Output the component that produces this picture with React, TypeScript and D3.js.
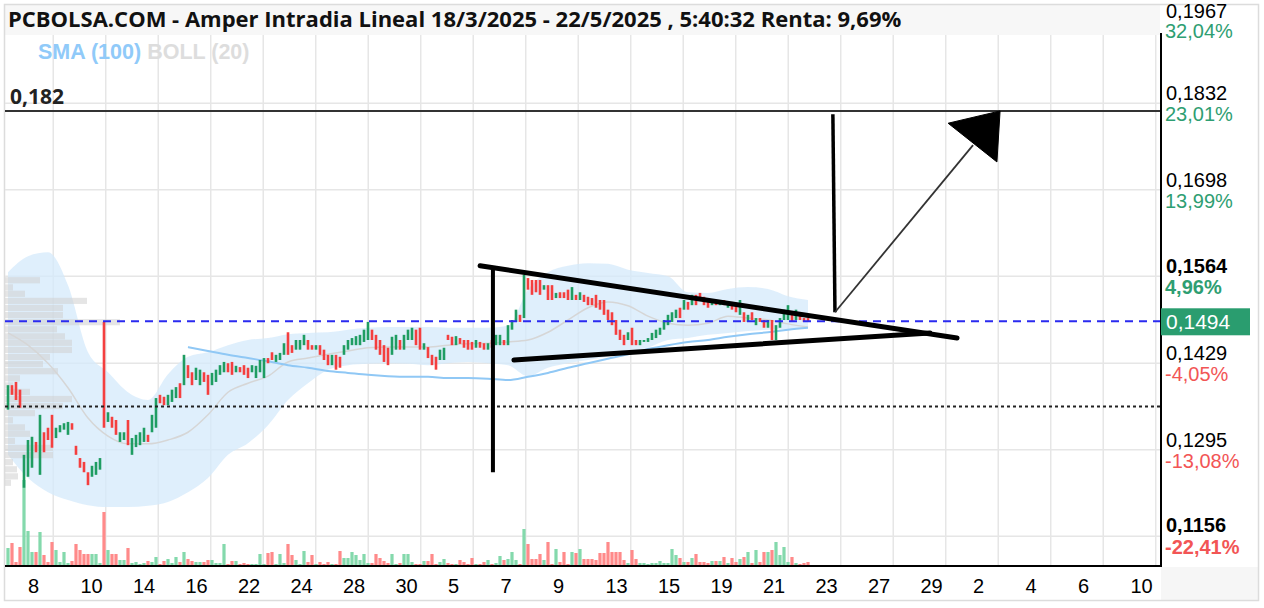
import React from "react";
import * as d3 from "d3";

const W = 1264;
const H = 608;

const TITLE = "PCBOLSA.COM - Amper Intradia Lineal 18/3/2025 - 22/5/2025 , 5:40:32 Renta: 9,69%";

// Intraday candles (EUR)
const candleOpen = [
  0.1357,0.1395,0.1400,0.1388,0.1236,0.1253,0.1267,0.1307,0.1256,0.1322,
  0.1329,0.1349,0.1313,0.1322,0.1326,0.1318,0.1336,0.1301,0.1282,0.1276,
  0.1260,0.1253,0.1256,0.1264,0.1493,0.1338,0.1346,0.1341,0.1307,0.1310,
  0.1341,0.1287,0.1299,0.1302,0.1307,0.1318,0.1322,0.1329,0.1380,0.1377,
  0.1364,0.1369,0.1375,0.1398,0.1395,0.1426,0.1415,0.1403,0.1395,0.1415,
  0.1411,0.1395,0.1400,0.1411,0.1415,0.1429,0.1431,0.1415,0.1423,0.1426,
  0.1422,0.1415,0.1406,0.1415,0.1406,0.1437,0.1446,0.1431,0.1434,0.1442,
  0.1477,0.1457,0.1450,0.1450,0.1457,0.1465,0.1457,0.1450,0.1457,0.1450,
  0.1442,0.1426,0.1442,0.1439,0.1442,0.1450,0.1457,0.1457,0.1457,0.1462,
  0.1465,0.1481,0.1473,0.1465,0.1457,0.1453,0.1442,0.1450,0.1465,0.1450,
  0.1465,0.1465,0.1481,0.1484,0.1450,0.1454,0.1442,0.1439,0.1434,0.1434,
  0.1473,0.1470,0.1457,0.1468,0.1465,0.1465,0.1462,0.1453,0.1462,0.1460,
  0.1450,0.1465,0.1457,0.1457,0.1465,0.1457,0.1481,0.1493,0.1504,0.1499,
  0.1561,0.1558,0.1558,0.1558,0.1543,0.1550,0.1550,0.1530,0.1539,0.1539,
  0.1543,0.1527,0.1535,0.1527,0.1535,0.1532,0.1530,0.1535,0.1527,0.1527,
  0.1512,0.1508,0.1496,0.1481,0.1473,0.1465,0.1484,0.1465,0.1457,0.1462,
  0.1462,0.1465,0.1468,0.1473,0.1481,0.1488,0.1493,0.1499,0.1515,0.1512,
  0.1524,0.1519,0.1535,0.1538,0.1532,0.1527,0.1519,0.1527,0.1519,0.1527,
  0.1515,0.1524,0.1519,0.1504,0.1508,0.1493,0.1508,0.1488,0.1499,0.1496,
  0.1484,0.1496,0.1465,0.1484,0.1496,0.1496,0.1504,0.1496,0.1508,0.1499,
  0.1499,
];
const candleClose = [
  0.1395,0.1380,0.1372,0.1360,0.1287,0.1310,0.1315,0.1291,0.1349,0.1291,
  0.1310,0.1298,0.1329,0.1333,0.1336,0.1338,0.1326,0.1287,0.1267,0.1260,
  0.1240,0.1270,0.1276,0.1282,0.1329,0.1353,0.1329,0.1318,0.1322,0.1322,
  0.1302,0.1313,0.1318,0.1322,0.1329,0.1307,0.1349,0.1375,0.1367,0.1364,
  0.1380,0.1388,0.1392,0.1375,0.1442,0.1406,0.1395,0.1422,0.1419,0.1400,
  0.1380,0.1414,0.1419,0.1426,0.1431,0.1415,0.1411,0.1425,0.1415,0.1411,
  0.1406,0.1426,0.1425,0.1434,0.1437,0.1429,0.1434,0.1442,0.1445,0.1460,
  0.1442,0.1445,0.1465,0.1465,0.1473,0.1450,0.1450,0.1457,0.1442,0.1434,
  0.1426,0.1442,0.1419,0.1422,0.1457,0.1465,0.1468,0.1471,0.1473,0.1481,
  0.1493,0.1465,0.1450,0.1442,0.1431,0.1426,0.1470,0.1473,0.1450,0.1473,
  0.1481,0.1484,0.1457,0.1450,0.1460,0.1437,0.1426,0.1419,0.1450,0.1453,
  0.1465,0.1457,0.1471,0.1459,0.1453,0.1450,0.1450,0.1465,0.1453,0.1450,
  0.1460,0.1453,0.1473,0.1473,0.1457,0.1488,0.1496,0.1512,0.1493,0.1566,
  0.1543,0.1535,0.1539,0.1535,0.1550,0.1527,0.1527,0.1538,0.1530,0.1530,
  0.1527,0.1547,0.1527,0.1539,0.1524,0.1519,0.1519,0.1515,0.1512,0.1504,
  0.1496,0.1488,0.1473,0.1465,0.1457,0.1477,0.1457,0.1457,0.1465,0.1465,
  0.1468,0.1476,0.1481,0.1484,0.1496,0.1504,0.1508,0.1512,0.1499,0.1527,
  0.1512,0.1535,0.1519,0.1527,0.1519,0.1515,0.1527,0.1519,0.1527,0.1519,
  0.1524,0.1512,0.1508,0.1527,0.1493,0.1504,0.1496,0.1499,0.1493,0.1484,
  0.1496,0.1465,0.1488,0.1499,0.1512,0.1519,0.1493,0.1512,0.1496,0.1493,
  0.1494,
];
// volume, thousands of shares
const candleVolume = [
  180,230,40,190,860,350,140,140,340,110,
  40,240,160,40,140,30,50,220,160,120,
  120,120,120,30,540,160,120,120,60,60,
  180,30,40,20,30,50,40,90,20,50,
  70,30,90,40,140,70,50,40,40,40,
  60,60,30,30,220,20,50,50,20,30,
  20,20,20,120,20,130,140,20,120,30,
  220,110,60,20,150,40,110,20,40,20,
  40,20,20,150,80,80,140,110,60,120,
  30,30,120,80,50,30,120,20,30,120,
  120,40,20,20,50,50,120,20,40,70,
  30,20,20,60,40,20,80,20,20,40,
  60,20,30,100,60,70,140,60,20,370,
  220,70,70,120,60,240,20,170,40,140,
  20,140,130,170,70,70,70,60,130,130,
  240,140,140,140,60,30,160,70,30,30,
  20,30,30,50,30,30,170,110,80,40,
  40,80,120,40,40,30,50,50,50,90,
  30,80,40,70,90,140,30,160,40,140,
  140,160,240,110,190,40,90,30,20,30,
  40,
];

const CANDLES_PER_DAY = 6.5625;
const FIRST_CANDLE_DAY = 0.276;

// Bollinger (20), sampled every 5 candles
const BAND_STEP = 5;
const bollUpper = [
  0.1570,0.1595,0.1601,0.1550,0.1446,0.1415,0.1384,0.1372,0.1412,0.1439,
  0.1446,0.1457,0.1465,0.1468,0.1474,0.1476,0.1477,0.1481,0.1484,0.1485,
  0.1485,0.1485,0.1484,0.1484,0.1484,0.1487,0.1543,0.1570,0.1580,0.1584,
  0.1583,0.1574,0.1569,0.1564,0.1539,0.1538,0.1544,0.1547,0.1544,0.1533,
  0.1527,
];
const bollLower = [
  0.1287,0.1251,0.1229,0.1217,0.1209,0.1206,0.1206,0.1208,0.1214,0.1229,
  0.1251,0.1287,0.1305,0.1333,0.1372,0.1398,0.1419,0.1426,0.1428,0.1429,
  0.1428,0.1426,0.1429,0.1431,0.1429,0.1426,0.1409,0.1422,0.1429,0.1434,
  0.1440,0.1446,0.1453,0.1465,0.1468,0.1473,0.1476,0.1479,0.1481,0.1482,
  0.1484,
];
const bollMid = [
  0.1476,0.1457,0.1429,0.1391,0.1344,0.1316,0.1304,0.1304,0.1310,0.1322,
  0.1349,0.1384,0.1398,0.1409,0.1431,0.1437,0.1443,0.1448,0.1453,0.1454,
  0.1454,0.1454,0.1457,0.1459,0.1460,0.1462,0.1465,0.1477,0.1496,0.1515,
  0.1524,0.1518,0.1502,0.1491,0.1488,0.1491,0.1502,0.1499,0.1496,0.1490,
  0.1485,
];
// SMA (100), sampled every 5 candles from candle 45
const SMA_START = 45;
const sma100 = [
  0.1454,0.1448,0.1442,0.1437,0.1432,0.1426,0.1422,0.1417,0.1414,0.1411,
  0.1409,0.1408,0.1408,0.1406,0.1406,0.1405,0.1403,0.1408,0.1414,0.1422,
  0.1429,0.1436,0.1443,0.1451,0.1457,0.1462,0.1465,0.1470,0.1474,0.1477,
  0.1481,0.1484,
];

// Volume-at-price profile
const PROFILE_BIN = 0.00108;
const profileLevels = [
  0.1557,0.1546,0.1536,0.1525,0.1514,0.1503,0.1492,0.1481,0.1470,0.1460,
  0.1449,0.1438,0.1427,0.1416,0.1405,0.1394,0.1384,0.1373,0.1362,0.1351,
  0.1340,0.1329,0.1319,0.1308,0.1297,0.1286,0.1275,0.1264,0.1253,0.1243,
];
const profileVolume = [
  350,80,200,820,580,580,1150,520,600,670,
  670,450,380,530,150,80,250,670,580,300,
  80,200,250,100,480,480,80,120,130,60,
];

const priceTicks = [0.1967, 0.1832, 0.1698, 0.1564, 0.1429, 0.1295, 0.1156];
const priceLabels = ["0,1967", "0,1832", "0,1698", "0,1564", "0,1429", "0,1295", "0,1156"];
const pctLabels = ["32,04%", "23,01%", "13,99%", "4,96%", "-4,05%", "-13,08%", "-22,41%"];
const boldTicks = ["0,1564", "0,1156"];
const gridPrices = [0.1832, 0.1698, 0.1564, 0.1429, 0.1295, 0.1161];

const dateLabels = ["8","10","14","16","22","24","28","30","5","7","9","13","15","19","21","23","27","29","2","4","6","10"];
const dateLabelDays = [1,3,5,7,9,11,13,15,17,19,21,23,25,27,29,31,33,35,37,39,41,43];
const gridDays = [2,4,6,8,10,12,14,16,18,20,22,24,26,28,30,32,34,36,38,40,42,44];

const LAST_PRICE = 0.1494;
const RESISTANCE = 0.182;
const SUPPORT = 0.1362;

// Hand-drawn annotations: [day, price]
const trendUpper: [number, number][] = [[18.26, 0.1580], [36.43, 0.1468]];
const trendLower: [number, number][] = [[19.55, 0.1434], [35.40, 0.1476]];
const flagPole: [number, number][] = [[18.75, 0.1577], [18.75, 0.1260]];
const targetPole: [number, number][] = [[31.70, 0.1815], [31.78, 0.1508]];
const arrowShaft: [number, number][] = [[31.78, 0.1508], [37.04, 0.1767]];
const arrowHead: [number, number][] = [[36.09, 0.1801], [38.07, 0.1820], [37.95, 0.1741]];

const GREEN = "#1f9d62";
const RED = "#f43f3f";
const VGREEN = "#84d9ac";
const VRED = "#ff8a8a";

export default function App() {
  const x = d3.scaleLinear().domain([0.162, 44.162]).range([5, 1160]);
  const y = d3.scaleLinear().domain([0.1114, 0.1992]).range([566.45, 0]);
  const vy = d3.scaleLinear().domain([0, 1000]).range([566, 466]);
  const px = d3.scaleLinear().domain([0, 1000]).range([5, 105]);
  const cDay = (i: number) => FIRST_CANDLE_DAY + i / CANDLES_PER_DAY;

  const bandPts = bollUpper.map((u, j) => ({ d: cDay(j * BAND_STEP), u, l: bollLower[j], m: bollMid[j] }));
  const area = d3.area<any>().x((p) => x(p.d)).y0((p) => y(p.l)).y1((p) => y(p.u)).curve(d3.curveMonotoneX);
  const midLine = d3.line<any>().x((p) => x(p.d)).y((p) => y(p.m)).curve(d3.curveMonotoneX);
  const smaLine = d3.line<number>().x((v, j) => x(cDay(SMA_START + j * BAND_STEP))).y((v) => y(v)).curve(d3.curveMonotoneX);
  const seg = d3.line<[number, number]>().x((p) => x(p[0])).y((p) => y(p[1]));

  const L = 5, R = 1160, T = 35, B = 566;
  const axisFont = "'Liberation Sans', Arial, sans-serif";

  return (
    <svg width={W} height={H} style={{ position: "absolute", left: 0, top: 0, background: "#fff" }}>
      <defs>
        <clipPath id="plot"><rect x={L} y={T} width={R - L} height={B - T} /></clipPath>
        <clipPath id="axis"><rect x={1161} y={4} width={98} height={563} /></clipPath>
      </defs>
      <rect x={0} y={0} width={W} height={H} fill="#fff" />
      <rect x={4} y={4} width={R - 4} height={T - 4} fill="#f7f7f7" />
      <rect x={1161} y={567} width={97} height={33} fill="#f6f6f6" />
      <rect x={4.5} y={4.5} width={1254} height={596} fill="none" stroke="#dcdcdc" strokeWidth={1.5} />

      {/* grid */}
      <g stroke="#e6e6e6" strokeWidth={1.5}>
        {gridDays.map((d) => (
          <line key={"gx" + d} x1={x(d)} x2={x(d)} y1={T} y2={B} />
        ))}
        {gridPrices.map((p) => (
          <line key={"gy" + p} x1={L} x2={R} y1={y(p)} y2={y(p)} />
        ))}
      </g>

      <g clipPath="url(#plot)">
        {/* Bollinger */}
        <path d={area(bandPts) || ""} fill="#d4e9fb" fillOpacity={0.75} />
        {/* volume profile */}
        {profileLevels.map((p, k) => (
          <rect key={"pf" + k} x={L} width={px(profileVolume[k]) - L} y={y(p + PROFILE_BIN / 2)} height={y(p - PROFILE_BIN / 2) - y(p + PROFILE_BIN / 2) - 0.8} fill="#cfcfcf" fillOpacity={0.55} />
        ))}
        <path d={midLine(bandPts) || ""} fill="none" stroke="#d6d6d6" strokeWidth={1.5} />
        <path d={smaLine(sma100) || ""} fill="none" stroke="#90c8f5" strokeWidth={2} />

        {/* volume */}
        {candleVolume.map((v, i) => (
          <rect key={"v" + i} x={x(cDay(i)) - 1.6} width={3.2} y={vy(v)} height={B - vy(v)} fill={candleClose[i] >= candleOpen[i] ? VGREEN : VRED} />
        ))}

        {/* candles */}
        {candleOpen.map((o, i) => {
          const c = candleClose[i];
          const y0 = Math.min(y(o), y(c));
          const h = Math.max(1.2, Math.abs(y(o) - y(c)));
          return <rect key={"c" + i} x={x(cDay(i)) - 1.3} width={2.6} y={y0} height={h} fill={c >= o ? GREEN : RED} />;
        })}

        {/* reference lines */}
        <line x1={L} x2={R} y1={y(RESISTANCE)} y2={y(RESISTANCE)} stroke="#333" strokeWidth={2} />
        <line x1={L} x2={R} y1={y(LAST_PRICE)} y2={y(LAST_PRICE)} stroke="#2a2af0" strokeWidth={2} strokeDasharray="8,6" />
        <line x1={L} x2={R} y1={y(SUPPORT)} y2={y(SUPPORT)} stroke="#222" strokeWidth={2} strokeDasharray="3,3" />

        {/* annotations */}
        <path d={seg(trendUpper) || ""} stroke="#000" strokeWidth={5} fill="none" strokeLinecap="round" />
        <path d={seg(trendLower) || ""} stroke="#000" strokeWidth={5} fill="none" strokeLinecap="round" />
        <path d={seg(flagPole) || ""} stroke="#000" strokeWidth={4} fill="none" />
        <path d={seg(targetPole) || ""} stroke="#000" strokeWidth={3.5} fill="none" />
        <path d={seg(arrowShaft) || ""} stroke="#333" strokeWidth={1.8} fill="none" />
        <path d={(seg(arrowHead) || "") + "Z"} fill="#000" stroke="#000" strokeWidth={1} />
      </g>

      {/* title and legend */}
      <text x={8} y={27} fontFamily="'Open Sans', sans-serif" fontWeight={700} fontSize={22} fill="#111">{TITLE}</text>
      <text x={38} y={59} fontFamily={axisFont} fontWeight={700} fontSize={21.5}>
        <tspan fill="#90caf9">SMA (100)</tspan>
        <tspan fill="#dddddd"> BOLL (20)</tspan>
      </text>
      <text x={10} y={104} fontFamily="'Open Sans', sans-serif" fontWeight={700} fontSize={21} fill="#222">0,182</text>

      {/* right axis */}
      <line x1={1161} x2={1161} y1={33} y2={B + 1} stroke="#000" strokeWidth={2} />
      <g clipPath="url(#axis)" fontFamily={axisFont} fontSize={20}>
        {priceTicks.map((p, k) => {
          const gy = y(p);
          const last = k === priceTicks.length - 1;
          const first = k === 0;
          const by = first ? 18 : last ? gy - 7 : gy - 3;
          const pyy = first ? 38 : last ? gy + 15 : gy + 18;
          const bold = boldTicks.includes(priceLabels[k]);
          return (
            <g key={"pt" + k} fontWeight={bold ? 700 : 400}>
              <text x={1166} y={by} fill="#000">{priceLabels[k]}</text>
              <text x={1165} y={pyy} fill={pctLabels[k].startsWith("-") ? "#f25555" : "#2e9e72"}>{pctLabels[k]}</text>
            </g>
          );
        })}
        <rect x={1160} y={y(LAST_PRICE) - 13} width={90} height={27} fill="#2a9d6f" />
        <text x={1166} y={y(LAST_PRICE) + 8} fontSize={21} fill="#fff">0,1494</text>
      </g>

      {/* bottom axis */}
      <line x1={L} x2={R + 1} y1={B} y2={B} stroke="#000" strokeWidth={2} />
      <g fontFamily={axisFont} fontSize={20} fill="#000">
        {dateLabels.map((s, k) => (
          <text key={"dl" + k} x={x(dateLabelDays[k]) + 1} y={593}>{s}</text>
        ))}
      </g>
    </svg>
  );
}
